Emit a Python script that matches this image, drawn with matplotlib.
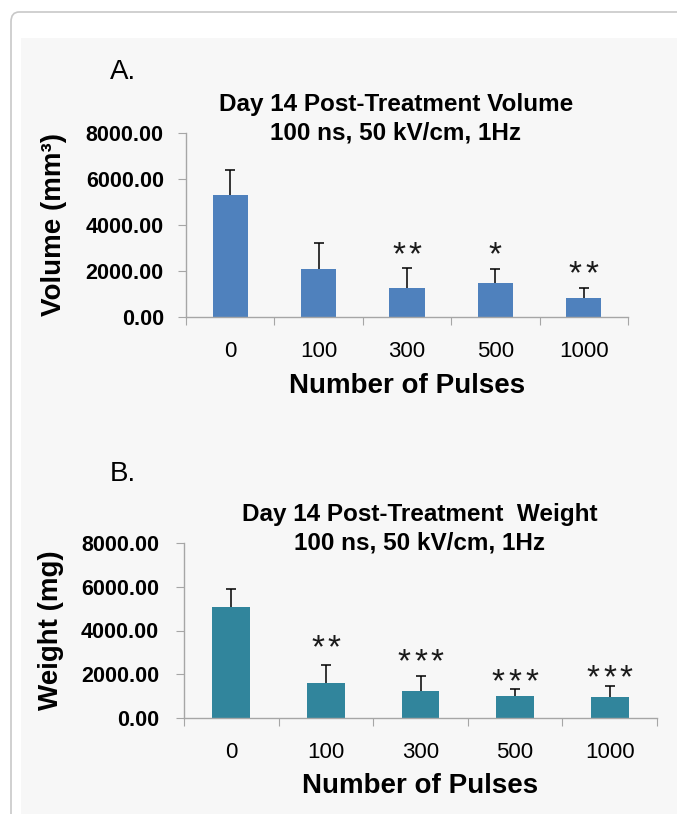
import matplotlib.pyplot as plt
from matplotlib.patches import FancyBboxPatch, Rectangle
import numpy as np

plt.rcParams['font.family'] = ['Liberation Sans', 'DejaVu Sans']

# data
pulses = ['0', '100', '300', '500', '1000']

volume_mean = [5320, 2090, 1275, 1495, 815]
volume_err = [1070, 1140, 840, 580, 450]
volume_stars = [0, 0, 2, 1, 2]
volume_star_y = [0, 0, 3110, 3110, 2250]

weight_mean = [5090, 1585, 1255, 1025, 980]
weight_err = [825, 840, 650, 300, 470]
weight_stars = [0, 2, 3, 3, 3]
weight_star_y = [0, 3600, 2970, 2060, 2270]

W, H = 677, 814
fig = plt.figure(figsize=(W / 100, H / 100), dpi=100)
fig.patch.set_facecolor('white')


def px_box(x0, y0, x1, y1):
    return [x0 / W, 1 - y1 / H, (x1 - x0) / W, (y1 - y0) / H]


# page frame + light gray panel
frame = FancyBboxPatch((11 / W, -0.2), 1.2, 1.2 - 12 / H,
                       boxstyle='round,pad=0,rounding_size=0.012',
                       transform=fig.transFigure, facecolor='white',
                       edgecolor='#c8c8c8', linewidth=1.2, zorder=-10)
fig.patches.append(frame)
fig.patches.append(Rectangle((21 / W, 0), 1, 1 - 38 / H, transform=fig.transFigure,
                             facecolor='#f7f7f7', edgecolor='none', zorder=-9))

axis_gray = '#a6a6a6'
star_size = 24
star_step = 12.0  # points between star centres


def draw_panel(box, means, errs, stars, star_y, color, ylabel, title, letter,
               letter_xy, title_xy, ylabel_x, xlabel_y, ytick_pad):
    ax = fig.add_axes(px_box(*box))
    ax.set_facecolor('none')
    x = np.arange(len(pulses))
    ax.bar(x, means, width=0.4, color=color, zorder=2)
    _, caps, _ = ax.errorbar(x, means, yerr=[np.zeros(len(errs)), errs], fmt='none',
                             ecolor='black', elinewidth=1.1, capsize=3.5,
                             capthick=1.1, zorder=3)
    caps[0].set_visible(False)

    # significance stars, one glyph each so the spacing matches
    for xi, n, sy in zip(x, stars, star_y):
        for k in range(n):
            dx = (k - (n - 1) / 2) * star_step
            ax.annotate('*', (xi, sy), xytext=(dx, -0.555 * star_size),
                        textcoords='offset points', ha='center', va='baseline',
                        fontsize=star_size, color='#1a1a1a', zorder=4)

    ax.set_xlim(-0.5, len(pulses) - 0.5)
    ax.set_ylim(0, 8000)
    ax.set_yticks(np.arange(0, 8001, 2000))
    ax.set_yticklabels([f'{v:.2f}' for v in np.arange(0, 8001, 2000)],
                       fontsize=15.5, fontweight='bold')
    ax.set_xticks(np.arange(-0.5, len(pulses), 1))
    ax.set_xticklabels([])
    ax.set_xticks(x, minor=True)
    ax.set_xticklabels(pulses, minor=True, fontsize=16)
    ax.tick_params(axis='x', which='minor', length=0, pad=17)
    ax.tick_params(axis='x', which='major', length=6, color=axis_gray, direction='out')
    ax.tick_params(axis='y', length=6, color=axis_gray, pad=ytick_pad)

    for side in ['top', 'right']:
        ax.spines[side].set_visible(False)
    for side in ['left', 'bottom']:
        ax.spines[side].set_color(axis_gray)
        ax.spines[side].set_linewidth(1.0)

    ax.set_ylabel(ylabel, fontsize=20, fontweight='bold')
    ax.yaxis.set_label_coords((ylabel_x - box[0]) / (box[2] - box[0]), 0.5)
    ax.set_xlabel('Number of Pulses', fontsize=20, fontweight='bold')
    ax.xaxis.set_label_coords(0.5, (box[3] - xlabel_y) / (box[3] - box[1]))

    fig.text(letter_xy[0] / W, 1 - letter_xy[1] / H, letter, fontsize=20,
             ha='center', va='center')
    fig.text(title_xy[0] / W, 1 - title_xy[1] / H, title, fontsize=17.5,
             fontweight='bold', ha='center', va='center', linespacing=1.3)
    return ax


draw_panel((186, 133, 628, 317), volume_mean, volume_err, volume_stars, volume_star_y,
           '#4f81bd', 'Volume (mm³)',
           'Day 14 Post-Treatment Volume\n100 ns, 50 kV/cm, 1Hz', 'A.',
           (123, 72), (396, 119), 67, 373, 10)

draw_panel((184, 543, 657, 718), weight_mean, weight_err, weight_stars, weight_star_y,
           '#31859c', 'Weight (mg)',
           'Day 14 Post-Treatment  Weight\n100 ns, 50 kV/cm, 1Hz', 'B.',
           (123, 474), (420, 529), 64, 773, 12)

fig.savefig('out.png', dpi=100)
